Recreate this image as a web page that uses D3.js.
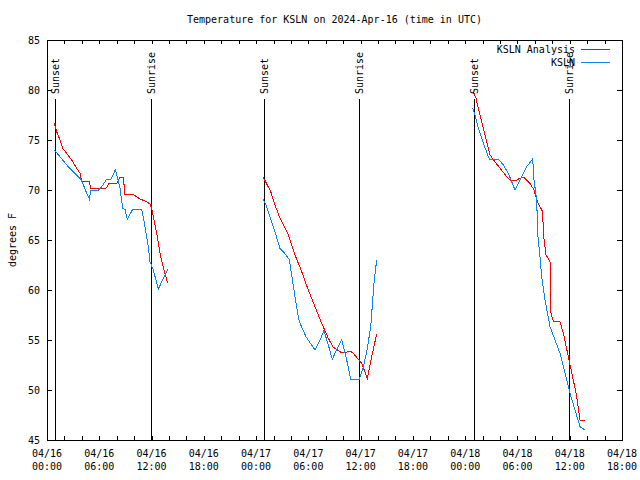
<!DOCTYPE html>
<html><head><meta charset="utf-8">
<script src="https://cdn.jsdelivr.net/npm/d3@7"></script>
<style>
body{margin:0;background:#fff}
text{font-family:"DejaVu Sans Mono","Liberation Mono",monospace;font-size:10px;fill:#000}
</style>
</head><body>
<svg id="c" width="640" height="480"></svg>
<script>
// ---- data (hours since 2024-04-16 00:00 UTC; null breaks a line) ----
const title = "Temperature for KSLN on 2024-Apr-16 (time in UTC)";
const yLabel = "degrees F";
const seriesNames = ["KSLN Analysis", "KSLN"];
const seriesColors = ["#ff0000", "#0a86f0"];

const analysisHours = [0.84,1.11,1.49,1.80,2.26,2.84,3.41,3.79,3.98,4.86,5.02,6.85,7.12,8.00,8.38,8.76,8.95,9.84,10.30,10.67,11.44,11.82,12.02,12.59,13.05,13.54,13.85,
  null,
  24.83,25.68,26.17,26.74,27.70,28.47,29.24,29.99,30.76,31.53,32.29,32.86,33.83,34.21,34.78,35.16,35.73,36.12,36.76,37.27,37.84,
  null,
  48.93,49.24,49.70,50.28,50.85,51.42,52.00,52.77,53.15,53.91,54.29,54.75,55.44,55.90,56.21,56.59,56.90,56.97,57.28,57.74,57.82,58.12,58.88,59.27,59.84,60.41,60.80,61.18,61.75];
const analysisTemps = [76.67,75.83,75.0,74.17,73.67,73.0,72.17,71.67,70.83,70.83,70.17,70.2,70.67,70.67,71.27,71.27,69.57,69.57,69.33,69.1,68.83,68.6,68.17,65.67,63.33,61.67,60.67,
  null,
  71.27,69.83,68.5,67.17,65.5,63.5,61.83,60.0,58.33,56.67,55.17,54.27,53.73,53.73,53.9,53.67,53.07,52.67,51.17,53.33,55.6,
  null,
  79.83,79.17,77.5,75.5,73.5,72.83,72.17,71.33,71.0,71.0,71.17,71.27,70.67,70.0,69.0,68.33,67.83,65.67,63.5,62.83,57.83,56.83,56.83,55.67,53.33,51.0,49.33,47.0,47.0];

const obsHours = [0.84,1.49,2.44,3.02,3.79,4.10,4.56,4.86,5.02,5.89,6.28,6.85,7.35,7.84,8.07,8.38,8.69,8.95,9.22,9.84,10.87,11.25,11.63,11.82,12.20,12.78,13.17,13.85,
  null,
  24.83,25.22,25.98,26.74,27.12,27.81,28.20,28.58,28.96,29.73,30.19,30.76,31.34,31.79,32.29,32.75,33.25,33.83,34.40,34.86,35.85,36.31,36.70,37.16,37.53,37.84,
  null,
  48.87,49.13,49.51,50.08,50.77,51.80,52.38,52.95,53.72,54.29,55.06,55.75,55.90,56.21,56.32,56.59,56.78,57.16,57.74,58.31,58.88,59.46,60.03,60.61,61.18,61.75];
const obsTemps = [74.0,73.33,72.33,71.83,71.17,70.67,69.67,69.1,70.0,70.0,70.33,71.07,71.07,72.0,71.33,70.17,68.17,68.07,67.07,68.07,68.07,66.33,64.33,62.83,62.0,60.1,60.83,62.07,
  null,
  69.07,68.33,66.33,64.17,63.83,63.07,60.83,58.67,56.83,55.33,54.73,54.0,55.0,55.93,54.5,53.07,54.07,55.0,53.0,51.07,51.07,52.33,53.83,56.33,60.67,63.0,
  null,
  78.17,77.5,76.17,74.67,73.1,73.1,72.5,71.67,70.0,71.0,72.33,73.1,71.0,69.0,65.67,63.33,61.33,59.0,56.33,55.0,53.67,51.67,49.67,48.0,46.33,46.0];

const sunHours = [0.92, 11.90, 24.91, 35.81, 49.01, 59.92];
const sunLabels = ["Sunset","Sunrise","Sunset","Sunrise","Sunset","Sunrise"];

const xStartHours = 0, xEndHours = 66;
const yTicks = [45,50,55,60,65,70,75,80,85];

// ---- drawing ----
const T0 = Date.UTC(2024,3,16,0,0);
const toDate = h => new Date(T0 + h*3600e3);

const W=640,H=480, L=47, R=622, Tp=40, B=440;
const svg = d3.select("#c");
const x = d3.scaleUtc().domain([toDate(xStartHours), toDate(xEndHours)]).range([L,R]);
const y = d3.scaleLinear().domain([45,85]).range([B,Tp]);

svg.append("rect").attr("width",W).attr("height",H).attr("fill","#fff");

// title
svg.append("text").attr("x",(L+R)/2).attr("y",23).attr("text-anchor","middle").text(title);

// y label
svg.append("text").attr("transform",`translate(16,${(Tp+B)/2}) rotate(-90)`)
  .attr("text-anchor","middle").text(yLabel);

const g = svg.append("g").attr("shape-rendering","crispEdges");

// y ticks and labels
yTicks.forEach(v=>{
  const yy = Math.round(y(v))+0.5;
  g.append("line").attr("x1",L).attr("x2",L+5).attr("y1",yy).attr("y2",yy).attr("stroke","#000");
  g.append("line").attr("x1",R-5).attr("x2",R).attr("y1",yy).attr("y2",yy).attr("stroke","#000");
  svg.append("text").attr("x",40).attr("y",y(v)+4).attr("text-anchor","end").text(v);
});

// x ticks
const xt = d3.utcHour.every(2).range(toDate(xStartHours), toDate(xEndHours+0.01));
xt.forEach(d=>{
  const xx = Math.round(x(d))+0.5;
  g.append("line").attr("x1",xx).attr("x2",xx).attr("y1",B).attr("y2",B-4).attr("stroke","#000");
  g.append("line").attr("x1",xx).attr("x2",xx).attr("y1",Tp).attr("y2",Tp+4).attr("stroke","#000");
});
const xl = d3.utcHour.every(6).range(toDate(xStartHours), toDate(xEndHours+0.01));
const fDay = d3.utcFormat("%m/%d"), fHr = d3.utcFormat("%H:%M");
xl.forEach(d=>{
  const t = svg.append("text").attr("x",x(d)).attr("text-anchor","middle");
  t.append("tspan").attr("x",x(d)).attr("y",457).text(fDay(d));
  t.append("tspan").attr("x",x(d)).attr("y",470).text(fHr(d));
});

// sunrise / sunset
sunHours.forEach((h,i)=>{
  const xx = Math.round(x(toDate(h)))+0.5;
  g.append("line").attr("x1",xx).attr("x2",xx).attr("y1",99).attr("y2",B).attr("stroke","#000");
  svg.append("text").attr("transform",`translate(${xx+3.5},94) rotate(-90)`)
    .attr("text-anchor","start").text(sunLabels[i]);
});

// series lines
function toPts(hs, vs){ return hs.map((h,i)=> h===null? null : [toDate(h), vs[i]]); }
const line = d3.line().defined(d=>d!==null).x(d=>x(d[0])).y(d=>y(d[1]));
[[analysisHours,analysisTemps],[obsHours,obsTemps]].forEach((s,i)=>{
  g.append("path").datum(toPts(s[0],s[1])).attr("d",line)
    .attr("fill","none").attr("stroke",seriesColors[i]).attr("stroke-width",1);
});

// legend
seriesNames.forEach((n,i)=>{
  const yy = 49 + i*13;
  svg.append("text").attr("x",575).attr("y",yy+3.5).attr("text-anchor","end").text(n);
  g.append("line").attr("x1",581).attr("x2",610).attr("y1",yy+0.5).attr("y2",yy+0.5)
    .attr("stroke",seriesColors[i]);
});

// border
g.append("rect").attr("x",L+0.5).attr("y",Tp+0.5).attr("width",R-L).attr("height",B-Tp)
  .attr("fill","none").attr("stroke","#000");
</script>
</body></html>
